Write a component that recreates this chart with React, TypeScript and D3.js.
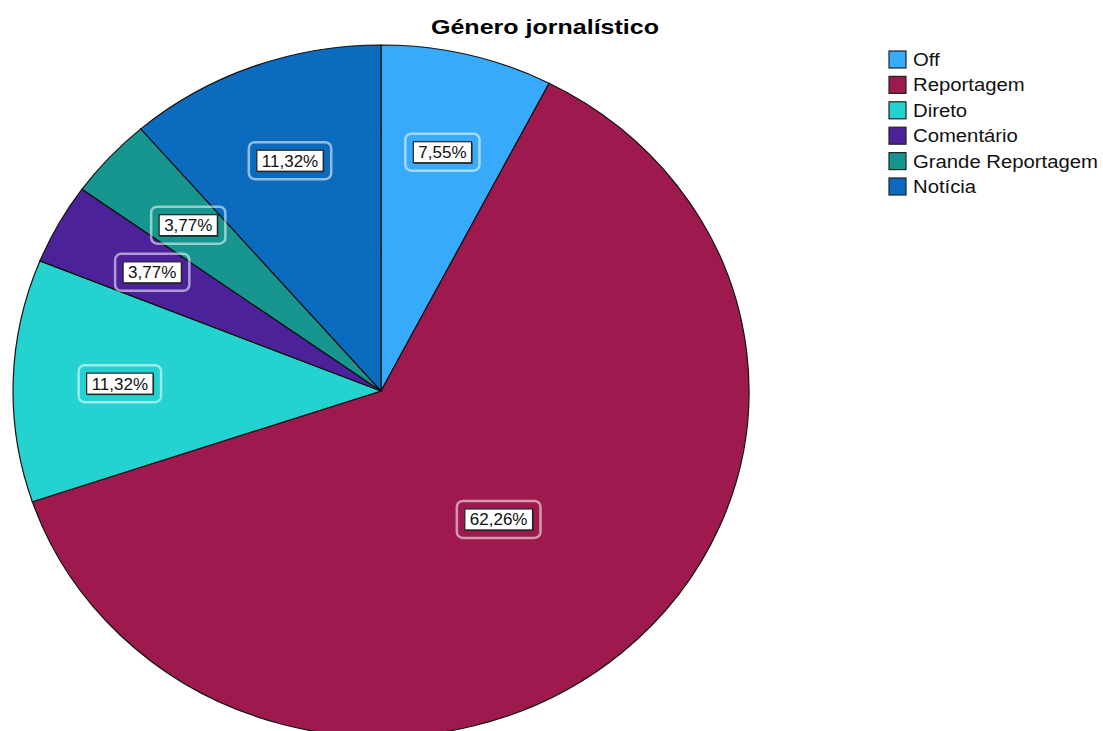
import React from "react";
import * as d3 from "d3";

const title = "Género jornalístico";
const categories = ["Off", "Reportagem", "Direto", "Comentário", "Grande Reportagem", "Notícia"];
const values = [7.55, 62.26, 11.32, 3.77, 3.77, 11.32];
const labels = ["7,55%", "62,26%", "11,32%", "3,77%", "3,77%", "11,32%"];
const colors = ["#38aafc", "#9e1a4e", "#24d3cf", "#4b2299", "#16968f", "#0b6cbf"];

const W = 1103, H = 731;
const cx = 381, cy = 391, rx = 368, ry = 346;

let ctx: CanvasRenderingContext2D | null = null;
function textW(t: string, font: string) {
  if (!ctx) ctx = document.createElement("canvas").getContext("2d");
  ctx!.font = font;
  return ctx!.measureText(t).width;
}

export default function App() {
  const pie = d3.pie<number>().sort(null).value((d) => d)(values);
  const arc = d3.arc<d3.PieArcDatum<number>>().innerRadius(0).outerRadius(ry);
  const sx = rx / ry;
  const labelFont = "17px 'Liberation Sans', Arial, sans-serif";

  return (
    <svg width={W} height={H} style={{ position: "absolute", left: 0, top: 0, background: "#fff" }}>
      <text x={545} y={34} textAnchor="middle" fontFamily="'Liberation Sans', Arial, sans-serif" fontWeight="bold" fontSize={21} textLength={228} lengthAdjust="spacingAndGlyphs" fill="#000">{title}</text>
      <g transform={`translate(${cx},${cy}) scale(${sx},1)`}>
        {pie.map((p, i) => (
          <path key={i} d={arc(p) || ""} fill={colors[i]} stroke="#111" strokeWidth={1.2} vectorEffect="non-scaling-stroke" />
        ))}
      </g>
      {pie.map((p, i) => {
        const mid = (p.startAngle + p.endAngle) / 2;
        const frac = values[i] > 50 ? 0.49 : 0.71;
        const x = cx + Math.sin(mid) * rx * frac;
        const y = cy - Math.cos(mid) * ry * frac;
        const tw = textW(labels[i], labelFont);
        const iw = tw + 10, ih = 21;
        const ow = iw + 16, oh = ih + 16;
        return (
          <g key={i}>
            <rect x={x - ow / 2} y={y - oh / 2} width={ow} height={oh} rx={6} fill="none" stroke="rgba(255,255,255,0.55)" strokeWidth={2.5} />
            <rect x={x - iw / 2 + 1} y={y - ih / 2 + 1} width={iw} height={ih} fill="#222" />
            <rect x={x - iw / 2} y={y - ih / 2} width={iw} height={ih} fill="#fff" stroke="#222" strokeWidth={1.2} />
            <text x={x} y={y + 6} textAnchor="middle" fontFamily="'Liberation Sans', Arial, sans-serif" fontSize={17} fill="#111">{labels[i]}</text>
          </g>
        );
      })}
      <g transform="translate(889,51)">
        {categories.map((c, i) => (
          <g key={c} transform={`translate(0,${i * 25.4})`}>
            <rect x={0} y={0} width={17} height={17} fill={colors[i]} stroke="#222" strokeWidth={1.2} />
            <text x={0} y={15} transform="translate(24,0) scale(1.16,1)" fontFamily="'Liberation Sans', Arial, sans-serif" fontSize={17.5} fill="#111">{c}</text>
          </g>
        ))}
      </g>
    </svg>
  );
}
